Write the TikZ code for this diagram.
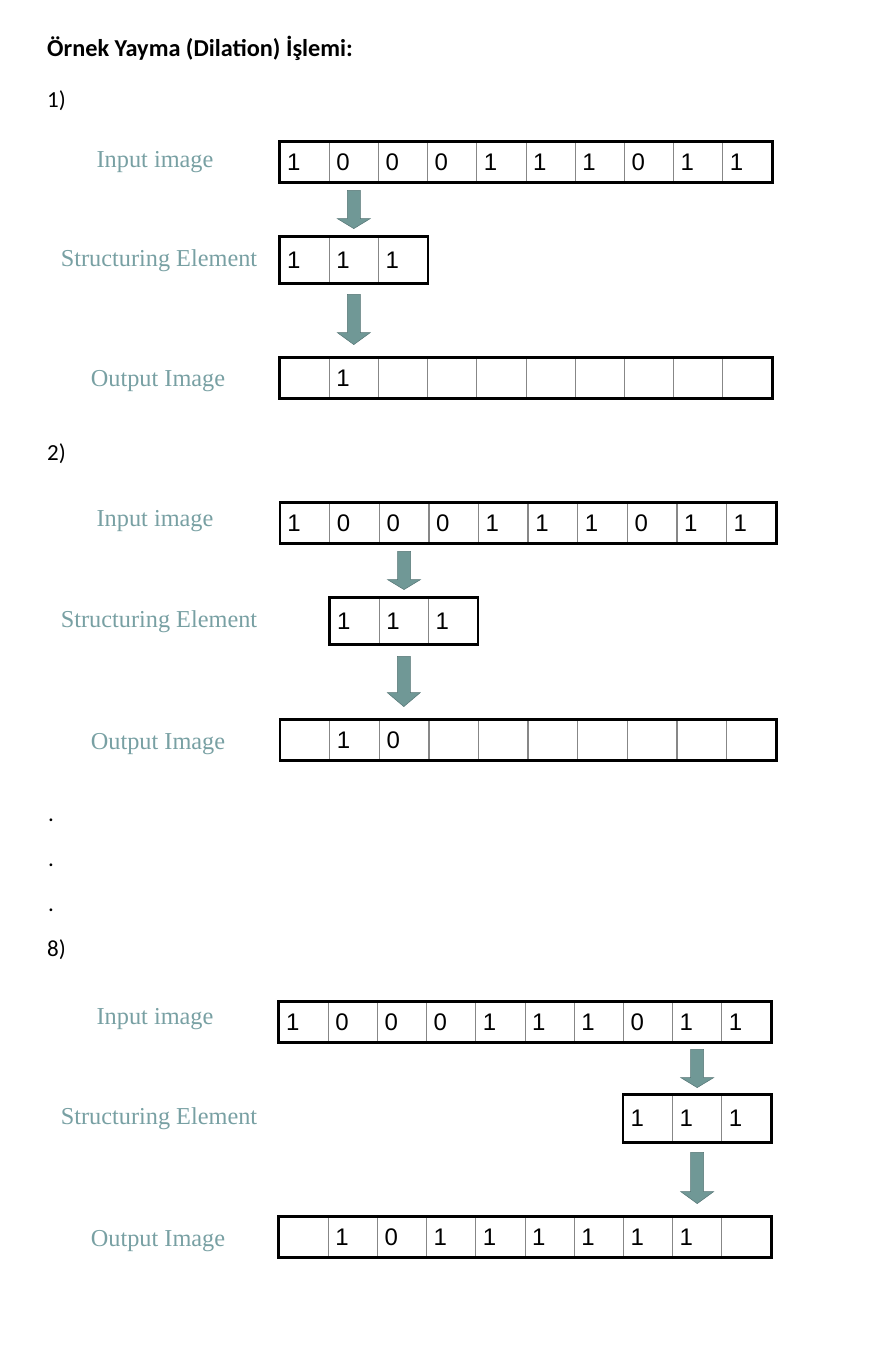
\documentclass[tikz,border=0pt]{standalone}
\usepackage{fontspec}
\setmainfont{Liberation Serif}
\newfontfamily\calibrifont{Carlito}
\newfontfamily\arialfont{Liberation Sans}
\usetikzlibrary{calc}
\definecolor{labelteal}{RGB}{120,160,163}
\definecolor{arrowfill}{RGB}{112,152,150}
\definecolor{arrowline}{RGB}{84,116,116}
\definecolor{cellgray}{RGB}{135,135,135}
\tikzset{
  cell/.style={draw=cellgray, line width=0.8pt, minimum width=49.2pt, minimum height=#1,
    text width=35pt, inner xsep=7pt, inner ysep=0pt, align=left,
    font=\arialfont\fontsize{24}{24}\selectfont},
  rowframe/.style={draw=black, line width=2.6pt},
  caption/.style={text=labelteal, inner sep=0pt, font=\fontsize{24.3}{24}\selectfont},
  heading/.style={anchor=west, inner sep=0pt, font=\calibrifont\fontsize{23}{23}\selectfont},
  fatarrow/.style={fill=arrowfill, draw=arrowline, line width=0.5pt}
}
% block arrow: from node, to node, top gap, bottom gap, head length
\newcommand\blockarrow[5]{%
  \coordinate (ba-s) at ($(#1.south)+(0,#3)$);
  \coordinate (ba-e) at ($(#1.south |- #2.north)+(0,-#4)$);
  \draw[fatarrow] ($(ba-s)+(-6.5,0)$) -- ($(ba-e)+(-6.5,-#5)$) -- ($(ba-e)+(-16.5,-#5)$)
    -- (ba-e) -- ($(ba-e)+(16.5,-#5)$) -- ($(ba-e)+(6.5,-#5)$) -- ($(ba-s)+(6.5,0)$) -- cycle;}
\begin{document}
\begin{tikzpicture}[x=1pt,y=-1pt]
\useasboundingbox (0,0) rectangle (872,1348);
\node[heading, font=\calibrifont\bfseries\fontsize{24.3}{24}\selectfont] (title) at (47,48) {Örnek Yayma (Dilation) İşlemi:};
% step 1
\node[heading] (n1) at (47,101) {1)};
\node[caption] (in1) at (155,162) {Input image};
\node[caption] (se1) at (159,261) {Structuring Element};
\node[caption] (out1) at (158,381) {Output Image};
\foreach \v [count=\i] in {1,0,0,0,1,1,1,0,1,1}
  \node[cell=40pt] (a1-\i) at ({280+(\i-0.5)*49.2},162) {\v};
\draw[rowframe] (a1-1.north west) rectangle (a1-10.south east);
\foreach \v [count=\i] in {1,1,1}
  \node[cell=46pt] (s1-\i) at ({280+(\i-0.5)*49.2},260) {\v};
\draw[rowframe] (s1-1.north west) rectangle (s1-3.south east);
\foreach \v [count=\i] in {{},1,{},{},{},{},{},{},{},{}}
  \node[cell=40pt] (o1-\i) at ({280+(\i-0.5)*49.2},378) {\v};
\draw[rowframe] (o1-1.north west) rectangle (o1-10.south east);
\blockarrow{a1-2}{s1-2}{8}{8}{10}
\blockarrow{s1-2}{o1-2}{11}{13}{12}
% step 2
\node[heading] (n2) at (47,454) {2)};
\node[caption] (in2) at (155,521) {Input image};
\node[caption] (se2) at (159,622) {Structuring Element};
\node[caption] (out2) at (158,744) {Output Image};
\foreach \v [count=\i] in {1,0,0,0,1,1,1,0,1,1}
  \node[cell=40pt] (a2-\i) at ({280+(\i-0.5)*49.6},523) {\v};
\draw[rowframe] (a2-1.north west) rectangle (a2-10.south east);
\foreach \v [count=\i] in {1,1,1}
  \node[cell=46pt] (s2-\i) at ({330+(\i-0.5)*49.2},621) {\v};
\draw[rowframe] (s2-1.north west) rectangle (s2-3.south east);
\foreach \v [count=\i] in {{},1,0,{},{},{},{},{},{},{}}
  \node[cell=40pt] (o2-\i) at ({280+(\i-0.5)*49.6},740) {\v};
\draw[rowframe] (o2-1.north west) rectangle (o2-10.south east);
\blockarrow{a2-3}{s2-2}{8}{8}{10}
\blockarrow{s2-2}{o2-3}{12}{13}{14}
% dots
\node[heading] (d1) at (48,820) {.};
\node[heading] (d2) at (48,865) {.};
\node[heading] (d3) at (48,910) {.};
% step 8
\node[heading] (n8) at (47,950) {8)};
\node[caption] (in8) at (155,1019) {Input image};
\node[caption] (se8) at (159,1119) {Structuring Element};
\node[caption] (out8) at (158,1241) {Output Image};
\foreach \v [count=\i] in {1,0,0,0,1,1,1,0,1,1}
  \node[cell=40pt] (a8-\i) at ({279+(\i-0.5)*49.2},1022) {\v};
\draw[rowframe] (a8-1.north west) rectangle (a8-10.south east);
\foreach \v [count=\i] in {1,1,1}
  \node[cell=47pt] (s8-\i) at ({623.4+(\i-0.5)*49.2},1118.5) {\v};
\draw[rowframe] (s8-1.north west) rectangle (s8-3.south east);
\foreach \v [count=\i] in {{},1,0,1,1,1,1,1,1,{}}
  \node[cell=40pt] (o8-\i) at ({279+(\i-0.5)*49.2},1237) {\v};
\draw[rowframe] (o8-1.north west) rectangle (o8-10.south east);
\blockarrow{a8-9}{s8-2}{7}{7}{10}
\blockarrow{s8-2}{o8-9}{10}{13}{12}
\end{tikzpicture}
\end{document}
